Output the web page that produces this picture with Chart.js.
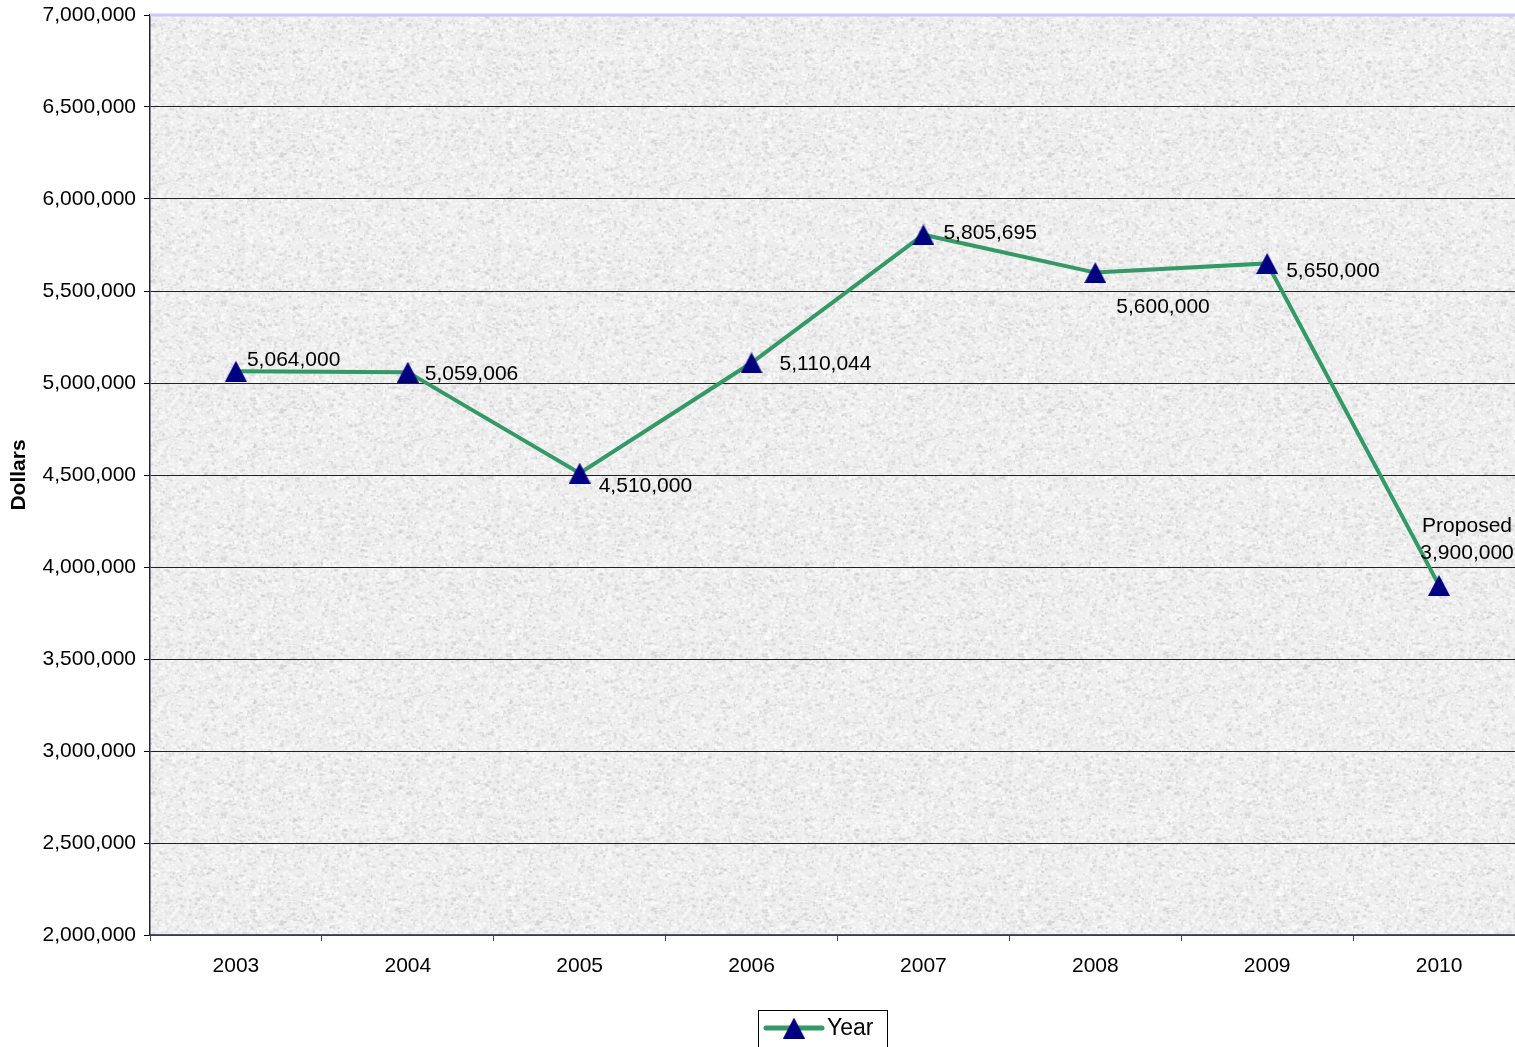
<!DOCTYPE html>
<html>
<head>
<meta charset="utf-8">
<title>Dollars by Year</title>
<script src="https://cdn.jsdelivr.net/npm/chart.js@4/dist/chart.umd.min.js"></script>
<style>
  html, body { margin: 0; padding: 0; background: #ffffff; overflow: hidden; }
  canvas { display: block; }
</style>
</head>
<body>
<canvas id="chart" width="1525" height="1047"></canvas>
<script>
// ---- data ----
const years = ['2003', '2004', '2005', '2006', '2007', '2008', '2009', '2010'];
const dollars = [5064000, 5059006, 4510000, 5110044, 5805695, 5600000, 5650000, 3900000];
const labelPrefix = ['', '', '', '', '', '', '', 'Proposed'];
const yMin = 2000000;
const yMax = 7000000;
const yStep = 500000;
const seriesName = 'Year';
const axisTitle = 'Dollars';

// ---- style ----
const FONT = '"Liberation Sans", Arial, Helvetica, sans-serif';
const LINE_GREEN = '#339966';
const MARKER_NAVY = '#000080';
// label placement relative to each point: [dx, dy, align]
const labelOffsets = [
  [11, -11, 'left'], [17, 2, 'left'], [19, 13, 'left'], [28, 1, 'left'],
  [20, -2, 'left'], [21, 35, 'left'], [19, 8, 'left'], [28, -32, 'center']
];

const fmt = v => v.toLocaleString('en-US');

// triangle marker image, centred on its bounding box
function makeTriangle(w, h) {
  const c = document.createElement('canvas');
  c.width = w; c.height = h;
  const g = c.getContext('2d');
  g.fillStyle = MARKER_NAVY;
  g.beginPath();
  g.moveTo(w / 2, 0);
  g.lineTo(w, h);
  g.lineTo(0, h);
  g.closePath();
  g.fill();
  return c;
}
const triangle = makeTriangle(22, 21);

// granite-like backdrop for the plot area (seamless tile)
function seeded(seed) {
  return function () {
    seed |= 0; seed = seed + 0x6D2B79F5 | 0;
    let t = Math.imul(seed ^ seed >>> 15, 1 | seed);
    t = t + Math.imul(t ^ t >>> 7, 61 | t) ^ t;
    return ((t ^ t >>> 14) >>> 0) / 4294967296;
  };
}
function makeTexture() {
  const size = 256;
  const raw = document.createElement('canvas');
  raw.width = size; raw.height = size;
  const g = raw.getContext('2d');
  g.fillStyle = '#eeeeee';
  g.fillRect(0, 0, size, size);
  const rnd = seeded(20100);
  for (let i = 0; i < 11000; i++) {
    const x = rnd() * size, y = rnd() * size;
    const r = rnd();
    const v = r < 0.45 ? 250 + Math.floor(rnd() * 6) : 200 + Math.floor(rnd() * 48);
    g.fillStyle = `rgba(${v},${v},${v},0.6)`;
    const w = 1 + rnd() * 3, h = 1 + rnd() * 2;
    for (let dx = -size; dx <= size; dx += size) {
      for (let dy = -size; dy <= size; dy += size) {
        g.fillRect(x + dx, y + dy, w, h);
      }
    }
  }
  // tile 3x3, blur once, keep the centre so edges wrap cleanly
  const big = document.createElement('canvas');
  big.width = size * 3; big.height = size * 3;
  const b = big.getContext('2d');
  for (let i = 0; i < 3; i++) {
    for (let j = 0; j < 3; j++) b.drawImage(raw, i * size, j * size);
  }
  const blurred = document.createElement('canvas');
  blurred.width = size * 3; blurred.height = size * 3;
  const bb = blurred.getContext('2d');
  bb.filter = 'blur(0.7px)';
  bb.drawImage(big, 0, 0);
  const out = document.createElement('canvas');
  out.width = size; out.height = size;
  out.getContext('2d').drawImage(blurred, -size, -size);
  return out;
}
const texture = makeTexture();

const plotBackdrop = {
  id: 'plotBackdrop',
  beforeDraw(chart) {
    const { ctx, chartArea: a } = chart;
    ctx.save();
    ctx.fillStyle = ctx.createPattern(texture, 'repeat');
    ctx.fillRect(a.left, a.top, a.right - a.left, a.bottom - a.top);
    ctx.restore();
  },
  afterDraw(chart) {
    const { ctx, chartArea: a } = chart;
    ctx.save();
    ctx.strokeStyle = '#c8c8ff';
    ctx.lineWidth = 3;
    ctx.beginPath();
    ctx.moveTo(a.left, a.top);
    ctx.lineTo(a.right, a.top);
    ctx.stroke();
    ctx.restore();
  }
};

const valueLabels = {
  id: 'valueLabels',
  afterDatasetsDraw(chart) {
    const { ctx } = chart;
    const meta = chart.getDatasetMeta(0);
    ctx.save();
    ctx.font = '21px ' + FONT;
    ctx.fillStyle = '#000000';
    ctx.textBaseline = 'middle';
    meta.data.forEach((pt, i) => {
      const [dx, dy, align] = labelOffsets[i];
      ctx.textAlign = align;
      ctx.fillText(fmt(dollars[i]), pt.x + dx, pt.y + dy);
      if (labelPrefix[i]) {
        ctx.fillText(labelPrefix[i], pt.x + dx, pt.y + dy - 27);
      }
    });
    ctx.restore();
  }
};

const legendBox = {
  id: 'legendBox',
  afterDraw(chart) {
    const { ctx } = chart;
    ctx.save();
    ctx.strokeStyle = '#000000';
    ctx.lineWidth = 1;
    ctx.strokeRect(758.5, 1010.5, 129, 60);
    ctx.strokeStyle = LINE_GREEN;
    ctx.lineWidth = 5;
    ctx.lineCap = 'round';
    ctx.beginPath();
    ctx.moveTo(766, 1028);
    ctx.lineTo(822, 1028);
    ctx.stroke();
    ctx.drawImage(triangle, 794 - triangle.width / 2, 1028 - triangle.height / 2);
    ctx.fillStyle = '#000000';
    ctx.font = '23px ' + FONT;
    ctx.textBaseline = 'middle';
    ctx.textAlign = 'left';
    ctx.fillText(seriesName, 827, 1029);
    ctx.restore();
  }
};

Chart.defaults.font.family = FONT;
Chart.defaults.color = '#000000';

new Chart(document.getElementById('chart'), {
  type: 'line',
  data: {
    labels: years,
    datasets: [{
      label: seriesName,
      data: dollars,
      borderColor: LINE_GREEN,
      borderWidth: 4,
      tension: 0,
      fill: false,
      pointStyle: triangle,
      pointRadius: 11,
      pointHoverRadius: 11
    }]
  },
  options: {
    responsive: false,
    devicePixelRatio: 1,
    animation: false,
    events: [],
    layout: { autoPadding: false, padding: { top: 15, right: 0, left: 0, bottom: 0 } },
    plugins: {
      legend: { display: false },
      tooltip: { enabled: false }
    },
    scales: {
      x: {
        type: 'category',
        offset: true,
        grid: {
          offset: true,
          drawOnChartArea: false,
          drawTicks: true,
          tickLength: 6,
          tickColor: '#404060'
        },
        border: { color: '#505080', width: 1.5 },
        ticks: {
          font: { size: 21 },
          color: '#000000',
          padding: 13,
          maxRotation: 0,
          autoSkip: false
        },
        afterFit(scale) {
          scale.height = 112;
          scale.paddingLeft = 0;
          scale.paddingRight = 0;
        }
      },
      y: {
        min: yMin,
        max: yMax,
        grid: {
          color: ctx => (ctx.tick && ctx.tick.value === yMax) ? 'rgba(0,0,0,0)' : '#222222',
          lineWidth: 1,
          tickLength: 6,
          tickColor: '#000000'
        },
        border: { color: '#202040', width: 1.5 },
        ticks: {
          stepSize: yStep,
          font: { size: 21 },
          color: '#000000',
          padding: 8,
          callback: v => fmt(v)
        },
        title: {
          display: true,
          text: axisTitle,
          font: { size: 21, weight: 'bold' },
          color: '#000000',
          padding: { top: 7, bottom: 0 }
        },
        afterFit(scale) {
          scale.width = 150;
          scale.paddingTop = 0;
          scale.paddingBottom = 0;
        }
      }
    }
  },
  plugins: [plotBackdrop, valueLabels, legendBox]
});
</script>
</body>
</html>
